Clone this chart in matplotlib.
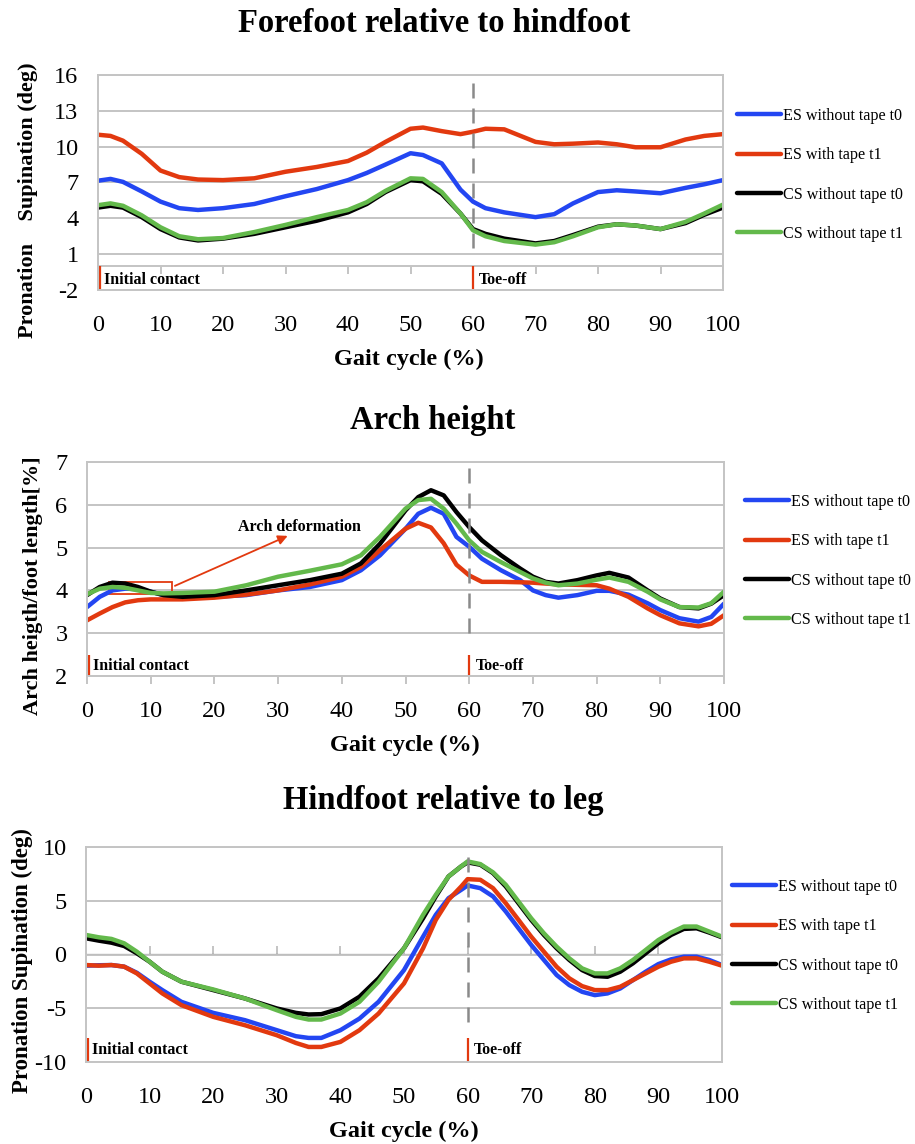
import matplotlib
matplotlib.use("Agg")
import matplotlib.pyplot as plt
from matplotlib.patches import Rectangle

plt.rcParams["font.family"] = ["Liberation Serif", "DejaVu Serif"]
plt.rcParams["axes.unicode_minus"] = False

labels = ["ES without tape t0", "ES with tape t1", "CS without tape t0", "CS without tape t1"]
colors = ["#2346F2", "#E2390F", "#000000", "#63B94B"]

# Forefoot relative to hindfoot
x1 = [0, 2, 4, 7, 10, 13, 16, 20, 25, 30, 35, 40, 43, 46, 50, 52, 55, 58,
      60, 62, 65, 70, 73, 76, 80, 83, 86, 90, 94, 97, 100]
fore_es_t0 = [7.15, 7.3, 7.05, 6.25, 5.4, 4.85, 4.7, 4.85, 5.2, 5.85, 6.45, 7.2, 7.8, 8.5, 9.45, 9.3, 8.6, 6.4,
              5.4, 4.85, 4.5, 4.1, 4.35, 5.25, 6.2, 6.35, 6.25, 6.1, 6.55, 6.85, 7.2]
fore_es_t1 = [11.0, 10.9, 10.5, 9.4, 8.0, 7.45, 7.25, 7.2, 7.35, 7.9, 8.3, 8.8, 9.5, 10.4, 11.5, 11.6, 11.3, 11.05,
              11.25, 11.5, 11.45, 10.4, 10.2, 10.25, 10.35, 10.2, 9.95, 9.95, 10.6, 10.9, 11.05]
fore_cs_t0 = [4.9, 5.05, 4.9, 4.1, 3.1, 2.4, 2.15, 2.3, 2.7, 3.25, 3.8, 4.5, 5.2, 6.2, 7.2, 7.1, 6.05, 4.4,
              3.1, 2.7, 2.3, 1.9, 2.1, 2.6, 3.3, 3.5, 3.4, 3.1, 3.6, 4.3, 4.9]
fore_cs_t1 = [5.1, 5.25, 5.05, 4.25, 3.25, 2.5, 2.25, 2.35, 2.85, 3.45, 4.1, 4.7, 5.35, 6.3, 7.35, 7.3, 6.2, 4.4,
              3.0, 2.5, 2.1, 1.8, 2.0, 2.5, 3.25, 3.5, 3.4, 3.1, 3.7, 4.4, 5.15]

# Arch height
x2 = [0, 2, 4, 6, 8, 10, 12, 15, 20, 25, 30, 35, 40, 43, 46, 50, 52, 54, 56, 58,
      60, 62, 65, 68, 70, 72, 74, 77, 80, 82, 85, 88, 90, 93, 96, 98, 100]
arch_es_t0 = [3.61, 3.85, 4.0, 4.04, 4.03, 3.97, 3.89, 3.82, 3.85, 3.89, 4.0, 4.08, 4.24, 4.47, 4.82, 5.44, 5.79,
              5.93, 5.79, 5.25, 5.02, 4.74, 4.47, 4.24, 4.0, 3.89, 3.83, 3.89, 3.99, 3.99, 3.9, 3.7, 3.54, 3.35,
              3.27, 3.38, 3.69]
arch_es_t1 = [3.3, 3.46, 3.61, 3.72, 3.77, 3.79, 3.79, 3.79, 3.83, 3.9, 4.0, 4.14, 4.32, 4.55, 4.94, 5.44, 5.58,
              5.47, 5.1, 4.6, 4.35, 4.2, 4.2, 4.19, 4.18, 4.16, 4.14, 4.13, 4.12, 4.04, 3.85, 3.58, 3.42, 3.23,
              3.16, 3.22, 3.42]
arch_cs_t0 = [3.89, 4.08, 4.18, 4.16, 4.08, 3.97, 3.89, 3.85, 3.89, 4.0, 4.12, 4.24, 4.39, 4.63, 5.09, 5.87, 6.18,
              6.34, 6.22, 5.83, 5.48, 5.17, 4.82, 4.51, 4.32, 4.2, 4.16, 4.24, 4.35, 4.41, 4.3, 4.0, 3.81, 3.61,
              3.58, 3.69, 3.89]
arch_cs_t1 = [3.91, 4.04, 4.08, 4.06, 4.0, 3.94, 3.93, 3.94, 3.97, 4.12, 4.32, 4.46, 4.61, 4.82, 5.25, 5.91, 6.11,
              6.14, 5.91, 5.56, 5.17, 4.9, 4.66, 4.43, 4.28, 4.18, 4.12, 4.16, 4.25, 4.3, 4.2, 3.97, 3.79, 3.61,
              3.6, 3.7, 3.97]

# Hindfoot relative to leg
x3 = [0, 2, 4, 6, 8, 10, 12, 15, 20, 25, 30, 33, 35, 37, 40, 43, 46, 50, 53, 55, 57, 59,
      60, 62, 64, 66, 68, 70, 72, 74, 76, 78, 80, 82, 84, 86, 88, 90, 92, 94, 96, 98, 100]
hind_es_t0 = [-1.04, -1.0, -0.98, -1.13, -1.7, -2.53, -3.31, -4.4, -5.43, -6.11, -7.04, -7.6, -7.76, -7.76, -7.04,
              -5.96, -4.4, -1.45, 1.66, 3.69, 5.24, 6.02, 6.42, 6.17, 5.4, 4.0, 2.44, 0.89, -0.51, -1.91, -2.85,
              -3.47, -3.78, -3.62, -3.16, -2.38, -1.6, -0.89, -0.45, -0.2, -0.2, -0.51, -0.98]
hind_es_t1 = [-0.98, -1.04, -0.98, -1.13, -1.76, -2.69, -3.62, -4.71, -5.8, -6.58, -7.51, -8.23, -8.6, -8.6, -8.13,
              -7.04, -5.49, -2.69, 0.58, 3.22, 5.09, 6.33, 7.01, 6.95, 6.17, 4.77, 3.22, 1.66, 0.26, -1.14, -2.22,
              -2.94, -3.31, -3.31, -3.0, -2.38, -1.76, -1.14, -0.67, -0.36, -0.36, -0.67, -1.04]
hind_cs_t0 = [1.51, 1.29, 1.1, 0.79, 0.11, -0.67, -1.6, -2.53, -3.31, -4.09, -5.02, -5.43, -5.58, -5.55, -5.02,
              -3.93, -2.22, 0.58, 3.37, 5.4, 7.26, 8.2, 8.57, 8.35, 7.57, 6.33, 4.77, 3.22, 1.82, 0.58, -0.51,
              -1.45, -2.0, -2.07, -1.6, -0.82, 0.11, 1.04, 1.82, 2.38, 2.44, 2.04, 1.6]
hind_cs_t1 = [1.82, 1.6, 1.45, 1.04, 0.26, -0.67, -1.6, -2.53, -3.25, -4.09, -5.18, -5.8, -6.05, -6.05, -5.49,
              -4.4, -2.53, 0.58, 3.69, 5.55, 7.26, 8.2, 8.66, 8.41, 7.64, 6.49, 4.93, 3.37, 1.97, 0.73, -0.36,
              -1.29, -1.76, -1.76, -1.29, -0.51, 0.42, 1.35, 2.04, 2.6, 2.6, 2.13, 1.66]

x_ticks = [0, 10, 20, 30, 40, 50, 60, 70, 80, 90, 100]
GRID = "#c4c4c4"
DASH = "#8a8a8a"
MARK = "#E2390F"

W, H = 915, 1144
fig = plt.figure(figsize=(W / 100, H / 100), dpi=100)


def px_axes(left, top, right, bottom):
    return fig.add_axes([left / W, 1 - bottom / H, (right - left) / W, (bottom - top) / H])


def draw_panel(ax, x, series, ylim, yticks, axis_y, dash_bottom, mark_top, text_y, legend_xy):
    for ys, lab, c in zip(series, labels, colors):
        ax.plot(x, ys, color=c, lw=3.2, label=lab, solid_capstyle="round")
    ax.set_xlim(0, 100)
    ax.set_ylim(*ylim)
    ax.set_yticks(yticks)
    ax.set_xticks(x_ticks)
    ax.grid(axis="y", color=GRID, lw=1.4)
    ax.set_axisbelow(True)
    for s in ax.spines.values():
        s.set_color(GRID)
        s.set_linewidth(1.4)
    ax.tick_params(axis="both", length=0, labelsize=17.5)
    ax.tick_params(axis="x", pad=18)
    ax.tick_params(axis="y", pad=14)
    # horizontal axis line with its tick marks
    frac = (axis_y - ylim[0]) / (ylim[1] - ylim[0])
    sec = ax.secondary_xaxis(frac)
    sec.set_xticks(x_ticks)
    sec.set_xticklabels([])
    sec.tick_params(direction="out", length=6, width=1.4, color=GRID)
    sec.spines["bottom"].set_color(GRID)
    sec.spines["bottom"].set_linewidth(1.4)
    # toe-off dashed line and event markers
    ax.vlines(60, dash_bottom, ylim[1], color=DASH, lw=1.8, linestyles=(0, (6, 4)))
    ax.vlines([0.25, 60], ylim[0], mark_top, color=MARK, lw=1.6)
    ax.text(1.0, text_y, "Initial contact", fontsize=11.5, fontweight="bold", va="center", ha="left")
    ax.text(61.0, text_y, "Toe-off", fontsize=11.5, fontweight="bold", va="center", ha="left")
    fig.legend(loc="center left", bbox_to_anchor=(legend_xy[0] / W, 1 - legend_xy[1] / H),
               frameon=False, fontsize=11.6, handlelength=2.75, handletextpad=0.1,
               labelspacing=1.45, borderpad=0, borderaxespad=0,
               handles=ax.get_lines()[:4])


# panel 1
ax1 = px_axes(98, 75, 723, 290)
draw_panel(ax1, x1, [fore_es_t0, fore_es_t1, fore_cs_t0, fore_cs_t1], (-2, 16),
           [-2, 1, 4, 7, 10, 13, 16], 0, 1.5, 0.0, -1.2, (737, 175))
fig.text(434 / W, 1 - 24 / H, "Forefoot relative to hindfoot", ha="center", va="center",
         fontsize=23.5, fontweight="bold")
fig.text(409 / W, 1 - 359 / H, "Gait cycle (%)", ha="center", va="center", fontsize=17.5, fontweight="bold")
fig.text(28 / W, 1 - 200 / H, "Pronation    Supination (deg)", ha="center", va="center",
         rotation=90, fontsize=16, fontweight="bold")

# panel 2
ax2 = px_axes(87, 462, 724, 676)
draw_panel(ax2, x2, [arch_es_t0, arch_es_t1, arch_cs_t0, arch_cs_t1], (2, 7),
           [2, 3, 4, 5, 6, 7], 2, 3.0, 2.5, 2.24, (745, 561))
fig.text(433 / W, 1 - 421 / H, "Arch height", ha="center", va="center", fontsize=23.5, fontweight="bold")
fig.text(405 / W, 1 - 745 / H, "Gait cycle (%)", ha="center", va="center", fontsize=17.5, fontweight="bold")
fig.text(33 / W, 1 - 586 / H, "Arch heigth/foot length[%]", ha="center", va="center",
         rotation=90, fontsize=16, fontweight="bold")
ax2.add_patch(Rectangle((3.4, 3.91), 10.0, 0.29, fill=False, edgecolor=MARK, lw=1.3))
ax2.annotate("", xy=(31.9, 5.3), xytext=(13.4, 4.08),
             arrowprops=dict(arrowstyle="-|>", color=MARK, lw=1.3, mutation_scale=14))
ax2.text(33.4, 5.47, "Arch deformation", fontsize=11.5, fontweight="bold", ha="center", va="center")

# panel 3
ax3 = px_axes(86, 847, 722, 1062)
draw_panel(ax3, x3, [hind_es_t0, hind_es_t1, hind_cs_t0, hind_cs_t1], (-10, 10),
           [-10, -5, 0, 5, 10], 0, -6.3, -7.8, -8.9, (732, 946))
fig.text(443 / W, 1 - 801 / H, "Hindfoot relative to leg", ha="center", va="center",
         fontsize=23.5, fontweight="bold")
fig.text(404 / W, 1 - 1131 / H, "Gait cycle (%)", ha="center", va="center", fontsize=17.5, fontweight="bold")
fig.text(22 / W, 1 - 961 / H, "Pronation Supination (deg)", ha="center", va="center",
         rotation=90, fontsize=16.5, fontweight="bold")

fig.savefig("out.png", dpi=100, facecolor="white")
